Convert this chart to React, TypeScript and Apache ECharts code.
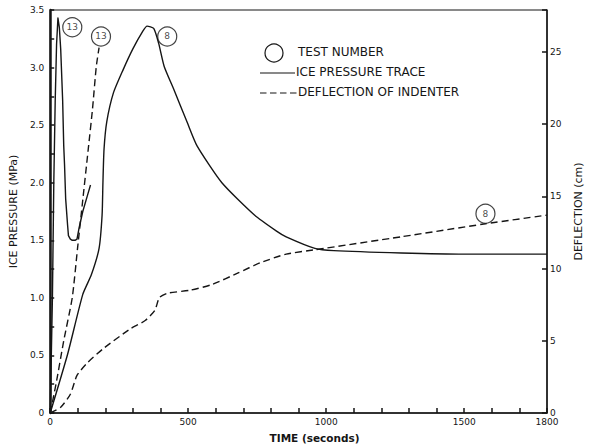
import React, { useEffect, useRef } from "react";
import * as echarts from "echarts";

// Test 8 ice pressure (MPa) vs time (s)
const t8PressureTime = [0, 63, 118, 149, 177, 188, 191, 195, 205, 229, 264, 299, 334, 351, 375, 393, 413, 448, 497, 532, 622, 740, 820, 855, 959, 1028, 1272, 1500, 1800];
const t8Pressure = [0, 0.51, 1.03, 1.2, 1.43, 1.72, 2.0, 2.29, 2.53, 2.78, 2.98, 3.16, 3.31, 3.36, 3.34, 3.21, 3.01, 2.81, 2.52, 2.32, 2.0, 1.72, 1.58, 1.53, 1.43, 1.41, 1.39, 1.38, 1.38];

// Test 13 ice pressure (MPa)
const t13PressureTime = [0, 8, 13, 18, 23, 28, 33, 38, 45, 49, 52, 56, 63, 66, 73, 80, 90, 97, 104, 118, 135, 146];
const t13Pressure = [0, 1.0, 2.0, 2.7, 3.2, 3.43, 3.35, 3.16, 2.72, 2.32, 2.15, 1.86, 1.63, 1.54, 1.51, 1.5, 1.5, 1.51, 1.6, 1.75, 1.89, 1.98];

// Test 8 deflection (cm)
const t8DeflTime = [0, 38, 73, 97, 136, 195, 288, 344, 379, 396, 427, 507, 587, 681, 761, 855, 959, 1272, 1577, 1800];
const t8Defl = [0, 0.4, 1.3, 2.6, 3.5, 4.5, 5.8, 6.4, 7.1, 8.0, 8.3, 8.5, 8.9, 9.7, 10.4, 11.0, 11.3, 12.2, 13.1, 13.7];

// Test 13 deflection (cm)
const t13DeflTime = [0, 21, 49, 80, 99, 116, 138, 153, 167, 177];
const t13Defl = [0, 2.0, 5.0, 8.0, 11.4, 14.4, 18.3, 21.0, 24.0, 25.3];

// Circled test-number annotations [time, pressure-axis value, label]
const testLabelTime = [80, 184, 424, 1577];
const testLabelLevel = [3.35, 3.27, 3.27, 1.73];
const testLabelText = ["13", "13", "8", "8"];

const xTickLabels = [0, 500, 1000, 1500, 1800];
const legendLabels = ["TEST NUMBER", "ICE PRESSURE TRACE", "DEFLECTION OF INDENTER"];

const FONT = "DejaVu Sans";
const INK = "#151515";

const zip = (a: number[], b: number[]) => a.map((v, i) => [v, b[i]]);

export default function App() {
  const ref = useRef<HTMLDivElement>(null);
  useEffect(() => {
    if (!ref.current) return;
    const chart = echarts.init(ref.current, undefined, { renderer: "svg" });
    const lineBase = { type: "line", symbol: "none", smooth: 0.2, z: 3 };
    const legendText = (i: number, x: number, y: number) => ({
      type: "text",
      left: x,
      top: y,
      style: { text: legendLabels[i], font: `12px ${FONT}`, fill: INK },
    });
    chart.setOption({
      animation: false,
      backgroundColor: "#fff",
      textStyle: { fontFamily: FONT, color: INK },
      grid: { left: 44, right: 30, top: 10, bottom: 32, show: true, borderColor: INK, borderWidth: 1 },
      graphic: [
        { type: "circle", shape: { cx: 274, cy: 53, r: 9 }, style: { fill: "none", stroke: INK, lineWidth: 1.2 } },
        legendText(0, 298, 46),
        { type: "line", shape: { x1: 260, y1: 73, x2: 295, y2: 73 }, style: { stroke: INK, lineWidth: 1.2 } },
        legendText(1, 296, 66),
        { type: "line", shape: { x1: 260, y1: 93, x2: 297, y2: 93 }, style: { stroke: INK, lineWidth: 1.2, lineDash: [6.5, 3.5] } },
        legendText(2, 298, 86),
      ],
      xAxis: {
        type: "value",
        min: 0,
        max: 1800,
        interval: 100,
        name: "TIME (seconds)",
        nameLocation: "middle",
        nameGap: 19,
        nameTextStyle: { fontFamily: FONT, fontSize: 10.5, fontWeight: "bold", color: INK, padding: [0, 0, 0, 32] },
        axisLine: { lineStyle: { color: INK, width: 1.5 } },
        axisTick: { inside: true, length: 5, lineStyle: { color: INK, width: 1.5 } },
        axisLabel: {
          fontSize: 9,
          color: INK,
          margin: 4,
          formatter: (v: number) => (xTickLabels.includes(v) ? String(v) : ""),
        },
        splitLine: { show: false },
      },
      yAxis: [
        {
          type: "value",
          min: 0,
          max: 3.5,
          interval: 0.5,
          position: "left",
          name: "ICE PRESSURE (MPa)",
          nameLocation: "middle",
          nameGap: 22,
          nameRotate: 90,
          nameTextStyle: { fontFamily: FONT, fontSize: 11, color: INK },
          axisLine: { show: true, lineStyle: { color: INK, width: 2.5 } },
          axisTick: { show: true, inside: true, length: 4, lineStyle: { color: INK, width: 1.5 } },
          minorTick: { show: true, splitNumber: 2, length: 4, lineStyle: { color: INK, width: 1.5 } },
          axisLabel: {
            fontSize: 9,
            color: INK,
            margin: 6,
            formatter: (v: number) => (v === 0 ? "0" : v.toFixed(1)),
          },
          splitLine: { show: false },
        },
        {
          type: "value",
          min: 0,
          max: 27.9,
          interval: 5,
          position: "right",
          name: "DEFLECTION (cm)",
          nameLocation: "middle",
          nameGap: 26,
          nameRotate: 90,
          nameTextStyle: { fontFamily: FONT, fontSize: 11, color: INK },
          axisLine: { show: true, lineStyle: { color: INK, width: 1.5 } },
          axisTick: { show: true, inside: true, length: 5, lineStyle: { color: INK, width: 1.5 } },
          axisLabel: {
            fontSize: 9,
            color: INK,
            margin: 3,
            formatter: (v: number) => (v % 5 === 0 ? String(v) : ""),
          },
          splitLine: { show: false },
        },
      ],
      series: [
        {
          ...lineBase,
          name: "ICE PRESSURE TRACE",
          yAxisIndex: 0,
          data: zip(t8PressureTime, t8Pressure),
          lineStyle: { color: INK, width: 1.4 },
          itemStyle: { color: INK },
        },
        {
          ...lineBase,
          name: "ICE PRESSURE TRACE",
          yAxisIndex: 0,
          smooth: false,
          data: zip(t13PressureTime, t13Pressure),
          lineStyle: { color: INK, width: 1.4, join: "round" },
          itemStyle: { color: INK },
        },
        {
          ...lineBase,
          name: "DEFLECTION OF INDENTER",
          yAxisIndex: 1,
          data: zip(t8DeflTime, t8Defl),
          lineStyle: { color: INK, width: 1.4, type: [7, 4] },
          itemStyle: { color: INK },
        },
        {
          ...lineBase,
          name: "DEFLECTION OF INDENTER",
          yAxisIndex: 1,
          data: zip(t13DeflTime, t13Defl),
          lineStyle: { color: INK, width: 1.4, type: [7, 4] },
          itemStyle: { color: INK },
        },
        {
          type: "scatter",
          name: "TEST NUMBER",
          yAxisIndex: 0,
          symbol: "circle",
          symbolSize: 19,
          z: 5,
          itemStyle: { color: "#fff", borderColor: INK, borderWidth: 1.2 },
          label: {
            show: true,
            position: "inside",
            fontFamily: FONT,
            fontSize: 9,
            color: INK,
            formatter: (p: any) => p.value[2],
          },
          data: testLabelTime.map((t, i) => [t, testLabelLevel[i], testLabelText[i]]),
        },
      ],
    });
    return () => chart.dispose();
  }, []);
  return (
    <div
      ref={ref}
      style={{ position: "fixed", left: 0, top: 0, width: 592, height: 448, background: "#fff" }}
    />
  );
}
